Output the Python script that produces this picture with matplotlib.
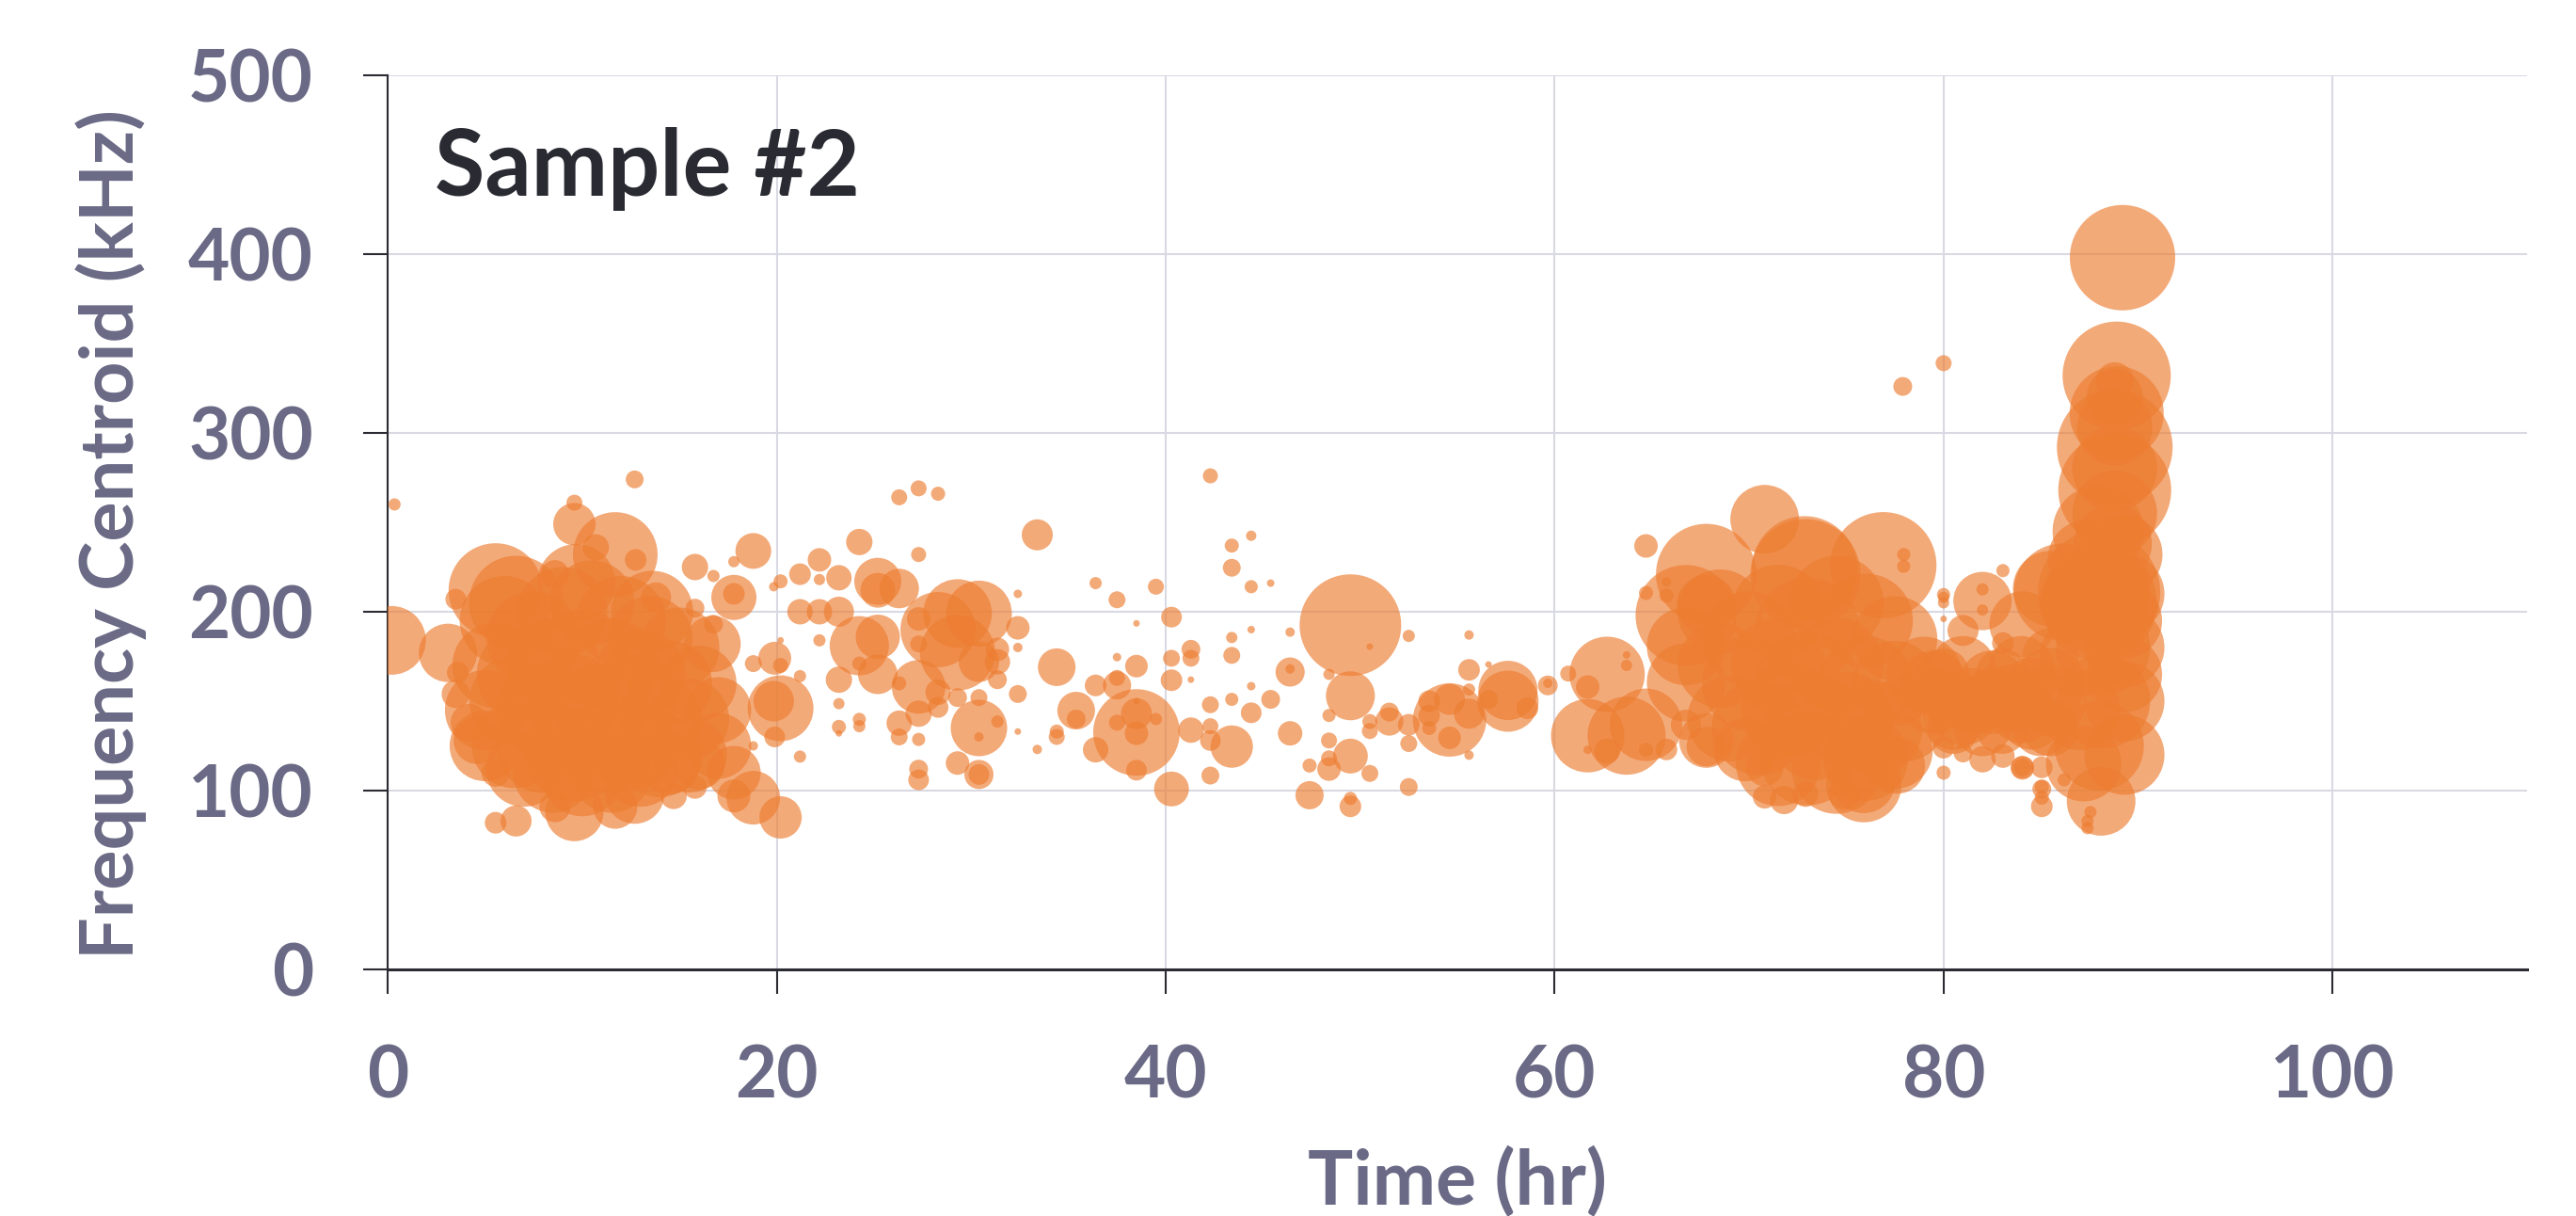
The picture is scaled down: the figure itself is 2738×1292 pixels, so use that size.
import numpy as np
import matplotlib
matplotlib.use("Agg")
import matplotlib.pyplot as plt

plt.rcParams["font.family"] = ["Lato", "DejaVu Sans"]
plt.rcParams["font.weight"] = "bold"

# --- data: time (hr), frequency centroid (kHz), bubble size ---
# early burst, 0-23 hr
t_early = [0.35, 0.2, 12.7, 9.6, 9.6, 11.7, 5.55, 6.6, 3.1, 3.5, 3.5, 15.8, 18.8, 17.8, 16.75,
           17.8, 17.8, 13.8, 13.6, 15.8, 16.7, 16.75, 19.9, 18.8, 20.2, 20.2, 19.85, 21.2, 21.2,
           19.9, 18.8, 20.2, 22.2, 21.2, 22.2, 21.2, 22.2, 22.2, 20.2, 19.85, 17.8, 18.8, 20.2,
           17.8, 15.8, 14.7, 5.55, 6.6, 9.6, 11.7, 12.7, 8.6, 5.55, 4.6, 4.2, 3.6, 10.7, 12.75,
           8.6, 9.7,
           6.0, 7.5, 9.0, 10.5, 12.0, 13.5, 15.0, 5.5, 7.0, 8.5, 10.0, 11.5, 13.0, 14.5, 16.0,
           5.0, 6.5, 8.0, 9.5, 11.0, 12.5, 14.0, 15.5, 17.0, 5.0, 6.5, 8.0, 9.5, 11.0, 12.5,
           14.0, 15.5, 17.0, 7.0, 8.5, 10.0, 11.5, 13.0, 14.5, 16.0]
f_early = [260, 184, 274, 261, 249, 232, 212, 205, 177, 207, 154, 225, 234, 228, 220,
           208, 210, 208, 200, 202, 182, 193, 174, 171, 170, 146, 150, 164, 119,
           130, 125, 184, 184, 200, 200, 221, 229, 218, 217, 214, 110, 96, 85,
           97, 102, 97, 82, 83, 88, 91, 98, 91, 110, 128, 138, 166, 236, 229,
           221, 216,
           195, 185, 200, 205, 195, 185, 180, 170, 165, 170, 175, 170, 165, 160, 160,
           145, 150, 145, 150, 145, 150, 140, 140, 145, 125, 125, 125, 120, 125, 125,
           120, 120, 125, 112, 110, 108, 110, 112, 115, 115]
a_early = [13, 73, 19, 17, 45, 90, 100, 100, 62, 22, 30, 28, 38, 12, 13,
           48, 23, 32, 87, 20, 60, 20, 35, 18, 16, 70, 43, 13, 13,
           22, 10, 7, 13, 27, 27, 23, 25, 12, 15, 10, 57, 57, 45,
           35, 25, 28, 23, 33, 62, 47, 63, 33, 30, 50, 40, 23, 28, 23,
           30, 83,
           95, 100, 95, 90, 95, 90, 85, 90, 100, 100, 100, 100, 95, 90, 80,
           85, 95, 100, 100, 100, 100, 90, 85, 70, 75, 90, 100, 100, 100, 95,
           90, 80, 70, 80, 85, 85, 85, 80, 65, 55]

# quiet middle stretch, 23-66 hr
t_mid = [26.3, 27.3, 28.3, 33.4, 24.25, 27.3, 23.2, 25.2, 25.2, 26.3, 23.2, 24.25, 25.2, 28.3,
         29.3, 30.4, 29.3, 27.3, 27.3, 30.4, 31.35, 31.35, 32.4, 32.4, 32.4, 31.35, 32.4, 23.2,
         25.2, 24.25, 27.3, 26.3, 28.3, 29.3, 30.4, 28.3, 27.3, 30.4, 31.35, 30.4, 26.3, 26.3,
         27.3, 23.2, 24.25, 24.25, 23.2, 23.2, 29.3, 27.3, 27.3, 30.4, 30.4, 32.4, 33.4, 34.4,
         34.4, 34.4, 35.4, 35.4, 36.4, 37.5, 36.4, 37.5, 37.5, 37.5, 38.5, 38.5, 39.5, 40.3,
         38.5, 38.5, 38.5, 37.5, 39.5, 38.5, 38.5, 36.4, 40.3, 40.3, 40.3, 41.3, 41.3, 41.3,
         41.3, 42.3, 43.4, 44.4, 43.4, 44.4, 45.4, 44.4, 43.4, 43.4, 44.4, 43.4, 42.3, 45.4,
         44.4, 43.4, 42.3, 42.3, 42.3,
         46.4, 49.5, 50.5, 52.5, 55.6, 46.4, 46.4, 48.4, 49.5, 48.4, 46.4, 48.4, 48.4, 49.5,
         48.4, 47.4, 50.5, 47.4, 49.5, 49.5, 52.5, 50.5, 50.5, 51.5, 51.5, 52.5, 52.5, 53.55,
         53.55, 53.55, 54.6, 54.6, 54.6, 55.6, 55.6, 55.6, 55.6, 56.6, 57.6, 57.6, 56.6, 58.6,
         59.65, 59.65, 60.7, 61.7, 61.7, 61.7, 62.7, 63.7, 62.7, 63.7, 63.7, 64.7, 64.7, 64.7,
         64.7, 65.75, 65.75]
f_mid = [264, 269, 266, 243, 239, 232, 219, 217, 212, 213, 200, 181, 186, 190,
         199, 199, 177, 196, 182, 172, 172, 179, 191, 210, 180, 162, 154, 162,
         165, 171, 158, 160, 155, 152, 152, 146.5, 143, 135, 138.6, 130, 137.7, 130,
         128.6, 148.6, 139.8, 136, 135.6, 132, 115.4, 112, 106, 109, 109, 133, 123, 169,
         130, 133, 144.7, 140, 216, 206.7, 158.8, 158.8, 163, 174.6, 169.6, 193.5, 214, 197,
         132.5, 143, 132, 138, 140, 111.4, 150, 122.8, 100.9, 174, 161.7, 179, 174, 162,
         133.8, 276, 237, 242.5, 224.6, 214, 216, 190, 185.6, 175.6, 158.4, 151, 148, 151,
         143.5, 124.6, 128, 136, 108.4,
         188.6, 192.5, 180.5, 186.5, 187, 166.3, 168, 165, 153, 142, 132, 128, 118, 119.3,
         112, 114, 109.6, 97.4, 91.2, 95.6, 102, 138.6, 133.3, 138.6, 143.9, 136.8, 126.3, 150,
         135, 142, 139.5, 151, 129.5, 143, 156.5, 119.8, 167.5, 170.5, 156, 150, 151, 146,
         158.8, 160, 165.4, 130.7, 157.9, 122.8, 165, 130.7, 122, 175.8, 170, 236.8, 210.5, 136.8,
         122.8, 216.7, 209]
a_mid = [17, 17, 15, 33, 28, 16, 27, 50, 37, 42, 32, 63, 47, 80,
         73, 70, 80, 25, 18, 43, 27, 25, 25, 9, 10, 20, 19, 28,
         42, 15, 57, 15, 27, 20, 18, 22, 28, 60, 13, 10, 27, 18,
         14, 12, 14, 13, 15, 7, 25, 20, 22, 31, 22, 7, 10, 40,
         17, 15, 40, 20, 13, 18, 23, 30, 17, 9, 24, 7, 17, 22,
         92, 33, 25, 17, 13, 22, 7, 27, 37, 18, 23, 20, 18, 7,
         27, 16, 15, 11, 19, 14, 8, 8, 12, 18, 9, 14, 18, 20,
         22, 45, 22, 17, 19,
         10, 108, 7, 13, 10, 31, 10, 12, 52, 14, 26, 17, 17, 37,
         25, 15, 18, 30, 23, 14, 19, 16, 17, 30, 20, 23, 18, 23,
         15, 23, 78, 33, 24, 32, 13, 10, 23, 7, 63, 65, 20, 23,
         21, 10, 17, 78, 25, 9, 80, 83, 27, 8, 12, 25, 15, 77,
         15, 10, 15]

# late burst, 66-86 hr
t_late = [65.75, 66.75, 67.8, 66.75, 66.75, 67.8, 66.75, 67.8, 70.8, 72.9, 76.9, 77.95, 77.95,
          83.05, 82.0, 82.0, 82.0, 80.0, 80.0, 80.0, 84.05, 83.05, 81.0, 84.05, 84.05, 85.05,
          85.05, 85.05, 85.05, 80.0, 81.0, 82.0, 83.05, 80.0, 70.8, 71.8, 72.9, 74.9, 75.9,
          77.6, 69.8, 67.8, 70.8, 72.85, 77.9, 80.0, 75.9, 80.0, 85.5,
          68.5, 70.0, 71.5, 73.0, 74.5, 76.0, 77.5, 68.5, 70.0, 71.5, 73.0, 74.5, 76.0, 77.5,
          79.0, 69.0, 70.5, 72.0, 73.5, 75.0, 76.5, 78.0, 71.5, 73.0, 74.5, 76.0, 77.5, 79.5,
          81.0, 82.5, 84.0, 85.5, 80.5, 83.0, 85.0, 80.0, 83.0, 84.5, 85.5,
          79.5, 81.0, 82.5, 84.0, 85.5, 80.5, 82.0, 84.5, 81.5, 83.5, 85.5]
f_late = [123, 198, 221, 180.7, 160.5, 204, 136.8, 124.6, 251.7, 221, 226, 232, 225.4,
          223, 206, 212.5, 201, 209.6, 205, 196, 193, 182.5, 189.5, 113, 113, 91.2,
          100.9, 96, 113, 110, 121, 117.5, 119.3, 124, 96.5, 94.7, 98, 98, 105,
          114, 122.8, 128, 113, 224, 326, 339, 103.3, 208, 213,
          200, 185, 200, 190, 205, 195, 185, 170, 160, 170, 160, 170, 160, 160,
          165, 140, 135, 145, 135, 140, 135, 140, 115, 118, 112, 118, 122, 150,
          145, 150, 145, 150, 135, 135, 135, 165, 165, 160, 175,
          160, 168, 160, 168, 160, 140, 135, 140, 150, 152, 135]
a_late = [23, 107, 107, 83, 83, 63, 32, 42, 73, 117, 113, 14, 14,
          14, 62, 13, 12, 14, 12, 7, 70, 23, 33, 24, 18, 23,
          20, 15, 23, 15, 20, 28, 25, 23, 25, 30, 27, 33, 67,
          60, 67, 58, 40, 112, 20, 17, 80, 12, 80,
          90, 100, 100, 110, 100, 100, 90, 90, 100, 100, 110, 100, 100, 90,
          80, 90, 100, 100, 110, 100, 100, 90, 90, 100, 95, 90, 80, 70,
          75, 70, 70, 75, 55, 55, 60, 55, 55, 55, 60,
          70, 70, 70, 70, 75, 65, 60, 65, 70, 70, 60]

# final spike, 86-91 hr
t_spike = [89.2, 88.9, 88.9, 88.8, 88.8, 88.8, 87.95, 88.7, 86.1, 88.0, 88.0, 88.1, 87.4,
           87.4, 87.55, 85.05, 84.05, 86.2,
           87.2, 88.0, 89.3, 87.0, 88.2, 89.3, 87.0, 88.2, 89.3, 87.0, 88.2, 89.3, 87.3,
           89.2, 89.3, 89.3, 88.8, 88.8, 88.8, 88.8]
f_spike = [398, 332, 311, 292, 329, 268, 245, 238, 211, 211, 205, 94, 79,
           83, 88, 102, 112.7, 106,
           115, 125, 120, 145, 150, 150, 175, 180, 180, 205, 210, 210, 230,
           232, 165, 195, 255, 280, 303, 320]
a_spike = [112, 115, 100, 123, 40, 120, 97, 83, 103, 130, 123, 73, 13,
           13, 13, 15, 25, 14,
           80, 95, 85, 85, 100, 85, 85, 100, 85, 85, 100, 85, 80,
           85, 80, 80, 90, 90, 80, 60]

time_hr = np.array(t_early + t_mid + t_late + t_spike)
freq_khz = np.array(f_early + f_mid + f_late + f_spike)
amp = np.array(a_early + a_mid + a_late + a_spike)

label_col = "#6a6a86"

fig = plt.figure(figsize=(27.38, 12.92), dpi=100)
ax = fig.add_axes([0.1505, 0.2028, 0.8305, 0.7353])

# bubble area from the size value (px diameter -> pt^2)
ax.scatter(time_hr, freq_khz, s=(amp * 0.72) ** 2, color="#ED7D31", alpha=0.65,
           linewidths=0, zorder=3)

ax.set_xlim(0, 110)
ax.set_ylim(0, 500)
ax.set_xticks(np.arange(0, 101, 20))
ax.set_yticks(np.arange(0, 501, 100))
ax.set_axisbelow(True)
ax.grid(color="#d9d9e3", linewidth=1.5)

for side in ["top", "right"]:
    ax.spines[side].set_visible(False)
ax.spines["left"].set_color("#2b2b33")
ax.spines["left"].set_linewidth(1.5)
ax.spines["bottom"].set_color("#2b2b33")
ax.spines["bottom"].set_linewidth(2.2)

ax.tick_params(axis="both", direction="out", length=19, width=1.5, color="#2b2b33",
               labelsize=55, labelcolor=label_col, pad=38)

fig.text(0.043, 0.561, "Frequency Centroid (kHz)", rotation=90, ha="center", va="center",
         fontsize=57, color=label_col, fontweight="bold")
fig.text(0.5657, 0.028, "Time (hr)", ha="center", va="center",
         fontsize=58, color=label_col, fontweight="bold")
fig.text(0.1687, 0.839, "Sample #2", ha="left", va="baseline",
         fontsize=70, color="#2a2a33", fontweight="bold")

fig.savefig("out.png", dpi=100)
